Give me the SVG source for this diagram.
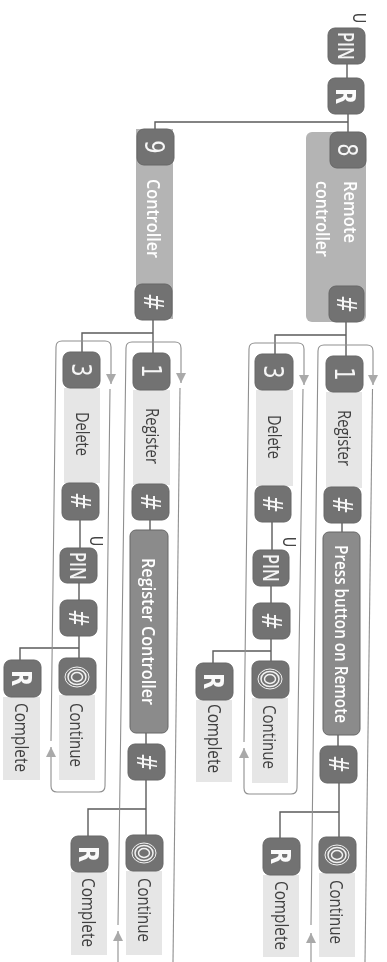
<svg xmlns="http://www.w3.org/2000/svg" width="387" height="962" viewBox="0 0 387 962">
<style>
.d{fill:#727272;stroke:#666;stroke-width:1}
.p{fill:#e6e6e6}
.m{fill:#b4b4b4}
.b{fill:#8b8b8b;stroke:#666;stroke-width:1}
text{font-family:"Open Sans","Liberation Sans",sans-serif}
.t{font-size:14px;fill:#3f3f3f}
.w{font-size:14px;fill:#fff;font-weight:600}
.s{font-size:14px;fill:#fff;font-weight:600}
.i{font-size:17px;fill:#f4f4f4;font-weight:600}
.n{font-size:21px;fill:#f6f6f6;text-anchor:middle;font-family:"DejaVu Sans",sans-serif}
.r{font-size:21px;font-weight:bold;fill:#fafafa;text-anchor:middle;font-family:"DejaVu Sans",sans-serif}
.u{font-size:14px;fill:#444;text-anchor:middle;font-family:"Liberation Sans",sans-serif}
.c{fill:none;stroke:#5c5c5c;stroke-width:1.4}
.l{fill:none;stroke:#8f8f8f;stroke-width:1.1}
.o{fill:none;stroke:#f2f2f2}
</style>
<defs>
<marker id="a" markerUnits="userSpaceOnUse" markerWidth="12" markerHeight="12" refX="10" refY="5.5" orient="auto"><path d="M0 0.5L10 5.5L0 10.5Z" fill="#a9a9a9"/></marker>
<filter id="soft" filterUnits="userSpaceOnUse" x="0" y="0" width="387" height="962"><feGaussianBlur stdDeviation="0.4"/></filter>
</defs>
<g filter="url(#soft)">
<g id="connectors">
<path class="c" d="M347 64V78M348 114V132M348 122H155V129M346 322V356M346 335H275V354M342 523V532M338 735V746M339 783V838M339 812H280V838M272 522V550M271 586V603M271 639V661M271 651H213V663"/>
<path class="c" d="M153 320V353M153 333H82V352M150 520V530M146 733V744M146 780V835M146 809H88V836M80 520V548M79 583V600M79 636V658M79 648H20V660"/>
<path class="l" marker-end="url(#a)" d="M311 962V933"/>
<path class="l" marker-end="url(#a)" d="M311 925L318 351Q318 345 324 345H367Q373 345 373 351V385"/>
<path class="l" d="M372.500 389L365 962"/>
<path class="l" marker-end="url(#a)" d="M303 389L297 788Q297 794 291 794H249Q244 794 244 788V748"/>
<path class="l" marker-end="url(#a)" d="M244 742L249 349Q249 343 255 343H298Q304 343 304 349V385"/>
<path class="l" marker-end="url(#a)" d="M118 962V931"/>
<path class="l" marker-end="url(#a)" d="M118 925L126 348Q126 342 132 342H175Q181 342 181 348V383"/>
<path class="l" d="M180 388L173 962"/>
<path class="l" marker-end="url(#a)" d="M110 389L105 786Q105 792 99 792H57Q51 792 51 786V747"/>
<path class="l" marker-end="url(#a)" d="M51 741L56 347Q56 341 62 341H105Q111 341 111 347V384"/>
</g>
<g id="pin-top"><text class="u" transform="translate(353,18) rotate(90) scale(1,1.3)">U</text><rect class="d" x="328" y="28" width="37" height="36" rx="7"/><text class="i" textLength="28" lengthAdjust="spacingAndGlyphs" transform="translate(338,32) rotate(90) scale(1,1.3)">PIN</text></g>
<g id="r-top"><rect class="d" x="328" y="78" width="36" height="36" rx="7"/><text class="r" transform="translate(336,96) rotate(90) scale(1,1.3)">R</text></g>
<g id="remote-controller"><rect class="m" x="306" y="132" width="60" height="190" rx="6"/><rect class="d" x="330" y="132" width="36" height="36" rx="7"/><text class="n" transform="translate(338,150) rotate(90) scale(1,1.3)">8</text><text class="w" textLength="62" lengthAdjust="spacingAndGlyphs" transform="translate(344,181) rotate(90) scale(1,1.3)">Remote</text><text class="w" textLength="76" lengthAdjust="spacingAndGlyphs" transform="translate(316,181) rotate(90) scale(1,1.3)">controller</text><rect class="d" x="329" y="286" width="35" height="36" rx="7"/><text class="n" transform="translate(337,304) rotate(90) scale(1,1.3)">#</text></g>
<g id="controller"><rect class="m" x="136" y="129" width="37" height="190"/><rect class="d" x="137" y="129" width="37" height="36" rx="7"/><text class="n" transform="translate(145,147) rotate(90) scale(1,1.3)">9</text><text class="w" textLength="79" lengthAdjust="spacingAndGlyphs" transform="translate(147,179) rotate(90) scale(1,1.3)">Controller</text><rect class="d" x="135" y="284" width="37" height="36" rx="7"/><text class="n" transform="translate(144,302) rotate(90) scale(1,1.3)">#</text></g>
<g id="r-register"><rect class="p" x="326" y="392" width="36" height="96"/><rect class="d" x="326" y="356" width="37" height="36" rx="7"/><text class="n" transform="translate(335,374) rotate(90) scale(1,1.3)">1</text><text class="t" textLength="56" lengthAdjust="spacingAndGlyphs" transform="translate(338,410) rotate(90) scale(1,1.3)">Register</text><rect class="d" x="324" y="487" width="37" height="36" rx="7"/><text class="n" transform="translate(333,505) rotate(90) scale(1,1.3)">#</text></g>
<g id="r-press"><rect class="b" x="323" y="532" width="37" height="203" rx="6"/><text class="s" textLength="178" lengthAdjust="spacingAndGlyphs" transform="translate(335,545) rotate(90) scale(1,1.3)">Press button on Remote</text></g>
<g id="r-hash2"><rect class="d" x="320" y="746" width="37" height="37" rx="7"/><text class="n" transform="translate(329,764) rotate(90) scale(1,1.3)">#</text></g>
<g id="r-continue"><rect class="p" x="319" y="873" width="36" height="84"/><rect class="d" x="319" y="837" width="37" height="36" rx="7"/><ellipse class="o" cx="337" cy="855" rx="12" ry="10" stroke-width="1"/><ellipse class="o" cx="337" cy="855" rx="9" ry="7.500" stroke-width="1.500"/><ellipse class="o" cx="337" cy="855" rx="5.500" ry="4.500" stroke-width="1.500"/><text class="t" textLength="64" lengthAdjust="spacingAndGlyphs" transform="translate(330,880) rotate(90) scale(1,1.3)">Continue</text></g>
<g id="r-complete"><rect class="p" x="263" y="875" width="36" height="82"/><rect class="d" x="263" y="838" width="37" height="37" rx="7"/><text class="r" transform="translate(271,856) rotate(90) scale(1,1.3)">R</text><text class="t" textLength="69" lengthAdjust="spacingAndGlyphs" transform="translate(275,881) rotate(90) scale(1,1.3)">Complete</text></g>
<g id="r-delete"><rect class="p" x="256" y="390" width="37" height="96"/><rect class="d" x="255" y="354" width="38" height="36" rx="7"/><text class="n" transform="translate(264,372) rotate(90) scale(1,1.3)">3</text><text class="t" textLength="44" lengthAdjust="spacingAndGlyphs" transform="translate(268,415) rotate(90) scale(1,1.3)">Delete</text><rect class="d" x="255" y="486" width="36" height="36" rx="7"/><text class="n" transform="translate(263,504) rotate(90) scale(1,1.3)">#</text></g>
<g id="r-pin"><text class="u" transform="translate(283,542) rotate(90) scale(1,1.3)">U</text><rect class="d" x="253" y="550" width="36" height="36" rx="7"/><text class="i" textLength="28" lengthAdjust="spacingAndGlyphs" transform="translate(263,554) rotate(90) scale(1,1.3)">PIN</text></g>
<g id="r-hash3"><rect class="d" x="253" y="603" width="37" height="36" rx="7"/><text class="n" transform="translate(262,621) rotate(90) scale(1,1.3)">#</text></g>
<g id="r2-continue"><rect class="p" x="252" y="698" width="36" height="85"/><rect class="d" x="252" y="661" width="37" height="37" rx="7"/><ellipse class="o" cx="270" cy="679" rx="12" ry="10" stroke-width="1"/><ellipse class="o" cx="270" cy="679" rx="9" ry="7.500" stroke-width="1.500"/><ellipse class="o" cx="270" cy="679" rx="5.500" ry="4.500" stroke-width="1.500"/><text class="t" textLength="64" lengthAdjust="spacingAndGlyphs" transform="translate(263,705) rotate(90) scale(1,1.3)">Continue</text></g>
<g id="r2-complete"><rect class="p" x="196" y="700" width="36" height="82"/><rect class="d" x="196" y="663" width="37" height="37" rx="7"/><text class="r" transform="translate(204,681) rotate(90) scale(1,1.3)">R</text><text class="t" textLength="69" lengthAdjust="spacingAndGlyphs" transform="translate(208,704) rotate(90) scale(1,1.3)">Complete</text></g>
<g id="c-register"><rect class="p" x="133" y="390" width="37" height="95"/><rect class="d" x="133" y="353" width="37" height="37" rx="7"/><text class="n" transform="translate(142,371) rotate(90) scale(1,1.3)">1</text><text class="t" textLength="56" lengthAdjust="spacingAndGlyphs" transform="translate(146,408) rotate(90) scale(1,1.3)">Register</text><rect class="d" x="132" y="484" width="37" height="36" rx="7"/><text class="n" transform="translate(141,502) rotate(90) scale(1,1.3)">#</text></g>
<g id="c-press"><rect class="b" x="130" y="530" width="38" height="203" rx="6"/><text class="s" textLength="147" lengthAdjust="spacingAndGlyphs" transform="translate(142,558) rotate(90) scale(1,1.3)">Register Controller</text></g>
<g id="c-hash2"><rect class="d" x="128" y="744" width="37" height="36" rx="7"/><text class="n" transform="translate(137,762) rotate(90) scale(1,1.3)">#</text></g>
<g id="c-continue"><rect class="p" x="126" y="871" width="36" height="84"/><rect class="d" x="126" y="835" width="37" height="36" rx="7"/><ellipse class="o" cx="144" cy="853" rx="12" ry="10" stroke-width="1"/><ellipse class="o" cx="144" cy="853" rx="9" ry="7.500" stroke-width="1.500"/><ellipse class="o" cx="144" cy="853" rx="5.500" ry="4.500" stroke-width="1.500"/><text class="t" textLength="64" lengthAdjust="spacingAndGlyphs" transform="translate(138,878) rotate(90) scale(1,1.3)">Continue</text></g>
<g id="c-complete"><rect class="p" x="71" y="872" width="36" height="83"/><rect class="d" x="71" y="836" width="37" height="36" rx="7"/><text class="r" transform="translate(79,854) rotate(90) scale(1,1.3)">R</text><text class="t" textLength="69" lengthAdjust="spacingAndGlyphs" transform="translate(82,878) rotate(90) scale(1,1.3)">Complete</text></g>
<g id="c-delete"><rect class="p" x="64" y="388" width="36" height="95"/><rect class="d" x="63" y="352" width="37" height="36" rx="7"/><text class="n" transform="translate(72,370) rotate(90) scale(1,1.3)">3</text><text class="t" textLength="44" lengthAdjust="spacingAndGlyphs" transform="translate(76,412) rotate(90) scale(1,1.3)">Delete</text><rect class="d" x="62" y="483" width="37" height="37" rx="7"/><text class="n" transform="translate(71,501) rotate(90) scale(1,1.3)">#</text></g>
<g id="c-pin"><text class="u" transform="translate(90,541) rotate(90) scale(1,1.3)">U</text><rect class="d" x="60" y="548" width="37" height="35" rx="7"/><text class="i" textLength="28" lengthAdjust="spacingAndGlyphs" transform="translate(70,552) rotate(90) scale(1,1.3)">PIN</text></g>
<g id="c-hash3"><rect class="d" x="60" y="600" width="37" height="36" rx="7"/><text class="n" transform="translate(69,618) rotate(90) scale(1,1.3)">#</text></g>
<g id="c2-continue"><rect class="p" x="59" y="695" width="36" height="85"/><rect class="d" x="59" y="658" width="37" height="37" rx="7"/><ellipse class="o" cx="77" cy="677" rx="12" ry="10" stroke-width="1"/><ellipse class="o" cx="77" cy="677" rx="9" ry="7.500" stroke-width="1.500"/><ellipse class="o" cx="77" cy="677" rx="5.500" ry="4.500" stroke-width="1.500"/><text class="t" textLength="64" lengthAdjust="spacingAndGlyphs" transform="translate(70,703) rotate(90) scale(1,1.3)">Continue</text></g>
<g id="c2-complete"><rect class="p" x="3" y="697" width="37" height="83"/><rect class="d" x="4" y="660" width="37" height="37" rx="7"/><text class="r" transform="translate(12,678) rotate(90) scale(1,1.3)">R</text><text class="t" textLength="69" lengthAdjust="spacingAndGlyphs" transform="translate(15,703) rotate(90) scale(1,1.3)">Complete</text></g>
</g>
</svg>
